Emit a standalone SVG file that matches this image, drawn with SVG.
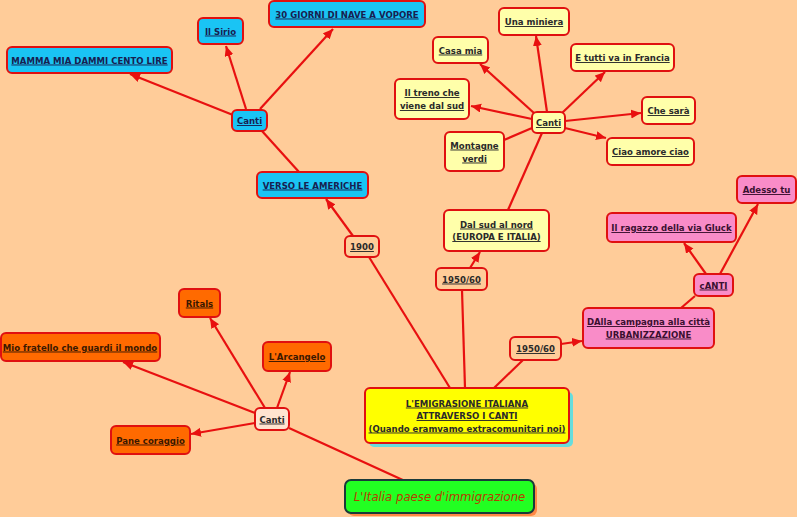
<svg xmlns="http://www.w3.org/2000/svg" width="797" height="517" viewBox="0 0 797 517">
<defs>
<marker id="ah" markerUnits="userSpaceOnUse" markerWidth="11" markerHeight="10" refX="10" refY="4.5" orient="auto">
<path d="M0,0 L10,4.5 L0,9 z" fill="#E81010"/>
</marker>
<style>
.n rect{stroke:#E01010;stroke-width:2}
.n rect.sh{stroke:none;fill:#66DDDD}
.blue rect{fill:#1AC4F4}
.ylw rect{fill:#FFFFAA}
.pink rect{fill:#F98CC8}
.org rect{fill:#FF6A00}
.yr rect{fill:#FFCC99}
text{font-family:"DejaVu Sans Condensed","DejaVu Sans",sans-serif;font-stretch:condensed;font-weight:bold;font-size:9.5px;text-anchor:middle;text-decoration:underline;fill:#2A2A2A}
.blue text{fill:#182050}
.org text{fill:#3A1800}
.pink text{fill:#3A1030}
#conn line{stroke:#E81010;stroke-width:2.2}
#conn line.a{marker-end:url(#ah)}
</style>
</defs>
<rect width="797" height="517" fill="#FFCC99"/>
<g id="conn">
<line class="a" x1="233" y1="115" x2="130" y2="74"/>
<line class="a" x1="246" y1="109" x2="226" y2="46"/>
<line class="a" x1="260" y1="109" x2="333" y2="29"/>
<line x1="262" y1="131" x2="299" y2="172"/>
<line class="a" x1="353" y1="236" x2="326" y2="199"/>
<line x1="450" y1="388" x2="369" y2="257"/>
<line x1="465" y1="388" x2="462" y2="290"/>
<line class="a" x1="470" y1="268" x2="480" y2="252"/>
<line x1="508" y1="210" x2="542" y2="133"/>
<line class="a" x1="547" y1="112" x2="536" y2="36"/>
<line class="a" x1="534" y1="113" x2="480" y2="64"/>
<line class="a" x1="562" y1="113" x2="605" y2="72"/>
<line class="a" x1="532" y1="119" x2="471" y2="106"/>
<line class="a" x1="565" y1="121" x2="641" y2="113"/>
<line class="a" x1="565" y1="128" x2="606" y2="138"/>
<line x1="504" y1="140" x2="532" y2="128"/>
<line x1="494" y1="388" x2="523" y2="360"/>
<line class="a" x1="561" y1="344" x2="582" y2="341"/>
<line x1="681" y1="308" x2="695" y2="296"/>
<line class="a" x1="706" y1="274" x2="684" y2="243"/>
<line class="a" x1="720" y1="274" x2="758" y2="204"/>
<line class="a" x1="265" y1="408" x2="210" y2="318"/>
<line class="a" x1="277" y1="408" x2="290" y2="372"/>
<line class="a" x1="255" y1="413" x2="123" y2="362"/>
<line class="a" x1="255" y1="423" x2="191" y2="434"/>
<line x1="289" y1="428" x2="405" y2="481"/>
</g>
<g id="n30" class="n blue"><rect x="269" y="1" width="156" height="26" rx="5"/><text x="347" y="17.5">30 GIORNI DI NAVE A VOPORE</text></g>
<g id="sirio" class="n blue"><rect x="198" y="18" width="45" height="26" rx="5"/><text x="220.5" y="34.5">Il Sirio</text></g>
<g id="mamma" class="n blue"><rect x="7" y="47" width="165" height="26" rx="5"/><text x="89.5" y="63.5">MAMMA MIA DAMMI CENTO LIRE</text></g>
<g id="cantiB" class="n blue"><rect x="232" y="110" width="35" height="21" rx="5"/><text x="249.5" y="124">Canti</text></g>
<g id="verso" class="n blue"><rect x="257" y="172" width="111" height="26" rx="5"/><text x="312.5" y="188.5">VERSO LE AMERICHE</text></g>
<g id="miniera" class="n ylw"><rect x="499" y="8" width="70" height="27" rx="5"/><text x="534" y="25">Una miniera</text></g>
<g id="casa" class="n ylw"><rect x="433" y="37" width="55" height="26" rx="5"/><text x="460.5" y="53.5">Casa mia</text></g>
<g id="etutti" class="n ylw"><rect x="571" y="44" width="103" height="27" rx="5"/><text x="622.5" y="61">E tutti va in Francia</text></g>
<g id="treno" class="n ylw"><rect x="395" y="79" width="74" height="40" rx="5"/><text x="432" y="96">Il treno che </text><text x="432" y="109">viene dal sud</text></g>
<g id="cantiY" class="n ylw"><rect x="532" y="112" width="33" height="21" rx="5"/><text x="548.5" y="126">Canti</text></g>
<g id="chesara" class="n ylw"><rect x="642" y="97" width="53" height="27" rx="5"/><text x="668.5" y="114">Che sarà</text></g>
<g id="montagne" class="n ylw"><rect x="445" y="132" width="59" height="39" rx="5"/><text x="474.5" y="148.5">Montagne</text><text x="474.5" y="161.5">verdi</text></g>
<g id="ciao" class="n ylw"><rect x="607" y="138" width="87" height="27" rx="5"/><text x="650.5" y="155">Ciao amore ciao</text></g>
<g id="dalsud" class="n ylw"><rect x="444" y="210" width="105" height="41" rx="5"/><text x="496.5" y="227.5">Dal sud al nord</text><text x="496.5" y="240">(EUROPA E ITALIA)</text></g>
<g id="adesso" class="n pink"><rect x="737" y="176" width="59" height="27" rx="5"/><text x="766.5" y="193">Adesso tu</text></g>
<g id="ragazzo" class="n pink"><rect x="607" y="213" width="129" height="29" rx="5"/><text x="671.5" y="231">Il ragazzo della via Gluck</text></g>
<g id="cANTI" class="n pink"><rect x="694" y="274" width="39" height="22" rx="5"/><text x="713.5" y="288.5">cANTI</text></g>
<g id="dalla" class="n pink"><rect x="583" y="308" width="131" height="40" rx="5"/><text x="648.5" y="325">DAlla campagna alla città</text><text x="648.5" y="337.5">URBANIZZAZIONE</text></g>
<g id="y1900" class="n yr"><rect x="345" y="236" width="34" height="21" rx="5"/><text x="362" y="250">1900</text></g>
<g id="y1950a" class="n yr"><rect x="436" y="268" width="51" height="22" rx="5"/><text x="461.5" y="282.5">1950/60</text></g>
<g id="y1950b" class="n yr"><rect x="510" y="337" width="51" height="23" rx="5"/><text x="535.5" y="352">1950/60</text></g>
<g id="main" class="n"><rect class="sh" x="369" y="392" width="204" height="55" rx="5"/><rect x="365" y="388" width="204" height="55" rx="5" fill="#FFFF00"/><text x="467" y="406.5">L'EMIGRASIONE ITALIANA </text><text x="467" y="419">ATTRAVERSO I CANTI</text><text x="467" y="431.5">(Quando eramvamo extracomunitari noi)</text></g>
<g id="ritals" class="n org"><rect x="179" y="289" width="41" height="28" rx="5"/><text x="199.5" y="306.5">Ritals</text></g>
<g id="mio" class="n org"><rect x="1" y="333" width="159" height="28" rx="5"/><text x="80" y="350.5">Mio fratello che guardi il mondo</text></g>
<g id="arcangelo" class="n org"><rect x="263" y="342" width="68" height="29" rx="5"/><text x="297" y="360">L'Arcangelo</text></g>
<g id="cantiO" class="n"><rect x="255" y="408" width="34" height="22" rx="5" fill="#FFE4D0"/><text x="272" y="422.5">Canti</text></g>
<g id="pane" class="n org"><rect x="111" y="426" width="79" height="28" rx="5"/><text x="150.5" y="443.5">Pane coraggio</text></g>
<g id="italia"><rect x="348" y="483" width="189" height="33" rx="6" fill="#FF8844"/><rect x="345" y="480" width="189" height="33" rx="6" fill="#22FF22" stroke="#1A3A3A" stroke-width="2"/><text x="439.5" y="501" style="font-size:13px;font-weight:normal;font-style:italic;text-decoration:none;fill:#B83C00">L'Italia paese d'immigrazione</text></g>
</svg>
